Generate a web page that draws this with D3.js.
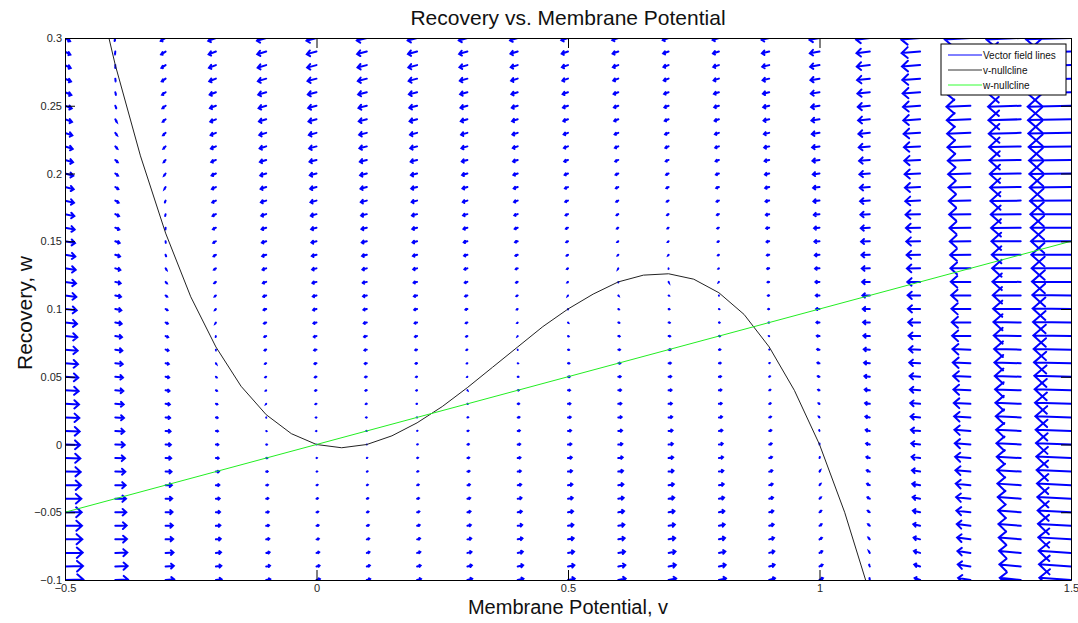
<!DOCTYPE html>
<html>
<head>
<meta charset="utf-8">
<script src="https://cdnjs.cloudflare.com/ajax/libs/d3/7.8.5/d3.min.js"></script>
<style>
  body { margin: 0; background: #fff; }
  text { font-family: "Liberation Sans", Arial, sans-serif; }
</style>
</head>
<body>
<div id="wrapper"></div>
<script>
// grid where the vector field was sampled
const vCols = [-0.5, -0.4, -0.3, -0.2, -0.1, 0, 0.1, 0.2, 0.3, 0.4, 0.5, 0.6, 0.7, 0.8, 0.9, 1.0, 1.1, 1.2, 1.3, 1.4, 1.5];
const wRows = [-0.1, -0.09, -0.08, -0.07, -0.06, -0.05, -0.04, -0.03, -0.02, -0.01, 0,
  0.01, 0.02, 0.03, 0.04, 0.05, 0.06, 0.07, 0.08, 0.09, 0.1,
  0.11, 0.12, 0.13, 0.14, 0.15, 0.16, 0.17, 0.18, 0.19, 0.2,
  0.21, 0.22, 0.23, 0.24, 0.25, 0.26, 0.27, 0.28, 0.29, 0.3];

// nullcline heights read at each grid column (arrow lengths follow w distance from these)
const vNullAtCol = [0.45, 0.28, 0.156, 0.072, 0.022, 0, 0, 0.016, 0.042, 0.072, 0.1, 0.12, 0.126, 0.112, 0.072, 0, -0.11, -0.264, -0.468, -0.728, -1.05];
const wNullAtCol = [-0.05, -0.04, -0.03, -0.02, -0.01, 0, 0.01, 0.02, 0.03, 0.04, 0.05, 0.06, 0.07, 0.08, 0.09, 0.1, 0.11, 0.12, 0.13, 0.14, 0.15];
const wRate = 0.1;

// v-nullcline as drawn
const vCurve = [-0.45, -0.4, -0.35, -0.3, -0.25, -0.2, -0.15, -0.1, -0.05, 0, 0.05, 0.1, 0.15, 0.2, 0.25, 0.3, 0.35, 0.4, 0.45, 0.5, 0.55, 0.6, 0.65, 0.7, 0.75, 0.8, 0.85, 0.9, 0.95, 1.0, 1.05, 1.1, 1.15];
const wCurve = [0.359, 0.28, 0.213, 0.156, 0.109, 0.072, 0.043, 0.022, 0.008, 0, -0.0024, 0, 0.0064, 0.016, 0.028, 0.042, 0.057, 0.072, 0.087, 0.1, 0.111, 0.12, 0.125, 0.126, 0.122, 0.112, 0.096, 0.072, 0.04, 0, -0.05, -0.11, -0.182];

// w-nullcline end points
const wLineV = [-0.5, 1.5];
const wLineW = [-0.05, 0.15];

const xTicks = [-0.5, 0, 0.5, 1, 1.5];
const yTicks = [-0.1, -0.05, 0, 0.05, 0.1, 0.15, 0.2, 0.25, 0.3];
const legendLabels = ["Vector field lines", "v-nullcline", "w-nullcline"];
const legendColors = ["#0000ff", "#333333", "#33ff33"];

function drawChart() {
  let dimensions = {
    width: 1078,
    height: 623,
    margin: { top: 38, right: 7, bottom: 43, left: 65 },
  };
  dimensions.boundedWidth = dimensions.width - dimensions.margin.left - dimensions.margin.right;
  dimensions.boundedHeight = dimensions.height - dimensions.margin.top - dimensions.margin.bottom;

  const wrapper = d3.select("#wrapper").append("svg")
    .attr("width", dimensions.width)
    .attr("height", dimensions.height);

  const bounds = wrapper.append("g")
    .attr("transform", `translate(${dimensions.margin.left},${dimensions.margin.top})`);

  wrapper.append("defs").append("clipPath").attr("id", "plotClip")
    .append("rect")
    .attr("width", dimensions.boundedWidth)
    .attr("height", dimensions.boundedHeight);

  const xScale = d3.scaleLinear().domain([-0.5, 1.5]).range([0, dimensions.boundedWidth]);
  const yScale = d3.scaleLinear().domain([-0.1, 0.3]).range([dimensions.boundedHeight, 0]);

  const plot = bounds.append("g").attr("clip-path", "url(#plotClip)");

  // quiver arrows, autoscaled like matlab (0.9 of grid spacing)
  const delx = 0.1, dely = 0.01;
  const field = [];
  vCols.forEach((v, i) => {
    wRows.forEach(w => {
      field.push({ v, w, u: vNullAtCol[i] - w, dw: wRate * (wNullAtCol[i] - w) });
    });
  });
  const maxLen = d3.max(field, d => Math.hypot(d.u / delx, d.dw / dely));
  const s = 0.9 / maxLen;
  const alpha = 0.33, beta = 0.33;

  const arrowPath = d => {
    const uu = s * d.u, vv = s * d.dw;
    const tx = d.v + uu, ty = d.w + vv;
    const h1x = tx - alpha * (uu + beta * vv), h1y = ty - alpha * (vv - beta * uu);
    const h2x = tx - alpha * (uu - beta * vv), h2y = ty - alpha * (vv + beta * uu);
    return `M${xScale(d.v)},${yScale(d.w)}L${xScale(tx)},${yScale(ty)}` +
      `M${xScale(h1x)},${yScale(h1y)}L${xScale(tx)},${yScale(ty)}L${xScale(h2x)},${yScale(h2y)}`;
  };

  plot.append("g").selectAll("path")
    .data(field)
    .join("path")
    .attr("d", arrowPath)
    .attr("fill", "none")
    .attr("stroke", "#0000ff")
    .attr("stroke-width", 2)
    .attr("stroke-linecap", "round");

  const lineGenerator = d3.line()
    .x(d => xScale(d[0]))
    .y(d => yScale(d[1]));

  plot.append("path")
    .datum(vCurve.map((v, i) => [v, wCurve[i]]))
    .attr("d", lineGenerator)
    .attr("fill", "none")
    .attr("stroke", "#222")
    .attr("stroke-width", 1);

  plot.append("path")
    .datum(wLineV.map((v, i) => [v, wLineW[i]]))
    .attr("d", lineGenerator)
    .attr("fill", "none")
    .attr("stroke", "#22ee22")
    .attr("stroke-width", 1);

  // axes (box with inward ticks on all sides)
  const tickLen = 10;
  const xAxisGenerator = d3.axisBottom(xScale).tickValues(xTicks).tickSizeInner(-tickLen).tickSizeOuter(0).tickPadding(tickLen + 4).tickFormat(d3.format("~g"));
  const yAxisGenerator = d3.axisLeft(yScale).tickValues(yTicks).tickSizeInner(-tickLen).tickSizeOuter(0).tickPadding(tickLen + 4).tickFormat(d3.format("~g"));

  const xAxis = bounds.append("g")
    .attr("transform", `translate(0,${dimensions.boundedHeight})`)
    .call(xAxisGenerator);
  const yAxis = bounds.append("g").call(yAxisGenerator);
  bounds.append("g").call(d3.axisTop(xScale).tickValues(xTicks).tickSizeInner(-tickLen).tickSizeOuter(0).tickFormat(""));
  bounds.append("g").attr("transform", `translate(${dimensions.boundedWidth},0)`)
    .call(d3.axisRight(yScale).tickValues(yTicks).tickSizeInner(-tickLen).tickSizeOuter(0).tickFormat(""));

  bounds.selectAll(".domain").attr("stroke", "#000");
  bounds.selectAll(".tick line").attr("stroke", "#000");
  bounds.selectAll(".tick text")
    .attr("fill", "#262626")
    .style("font-size", "11px")
    .style("font-family", "Liberation Sans, Arial, sans-serif");
  yAxis.selectAll(".tick text").attr("x", -3);
  xAxis.selectAll(".tick text").attr("y", 4);

  // legend
  const legend = bounds.append("g")
    .attr("transform", `translate(${dimensions.boundedWidth - 130},6)`);
  legend.append("rect")
    .attr("width", 125).attr("height", 51)
    .attr("fill", "#fff").attr("stroke", "#000").attr("stroke-width", 1);
  const items = legend.selectAll(".item")
    .data(legendLabels)
    .join("g")
    .attr("transform", (d, i) => `translate(0,${11 + i * 15})`);
  items.append("line")
    .attr("x1", 7).attr("x2", 41)
    .attr("stroke", (d, i) => legendColors[i])
    .attr("stroke-width", 1);
  items.append("text")
    .attr("x", 42).attr("dy", "0.35em")
    .style("font-size", "10px")
    .attr("fill", "#111")
    .text(d => d);

  // labels
  wrapper.append("text")
    .attr("x", dimensions.margin.left + dimensions.boundedWidth / 2)
    .attr("y", 25)
    .attr("text-anchor", "middle")
    .style("font-size", "21px")
    .attr("fill", "#111")
    .text("Recovery vs. Membrane Potential");

  wrapper.append("text")
    .attr("x", dimensions.margin.left + dimensions.boundedWidth / 2)
    .attr("y", 614)
    .attr("text-anchor", "middle")
    .style("font-size", "20px")
    .attr("fill", "#111")
    .text("Membrane Potential, v");

  wrapper.append("text")
    .attr("transform", `translate(32,${dimensions.margin.top + dimensions.boundedHeight / 2 + 4}) rotate(-90)`)
    .attr("text-anchor", "middle")
    .style("font-size", "21px")
    .attr("fill", "#111")
    .text("Recovery, w");
}

drawChart();
</script>
</body>
</html>
